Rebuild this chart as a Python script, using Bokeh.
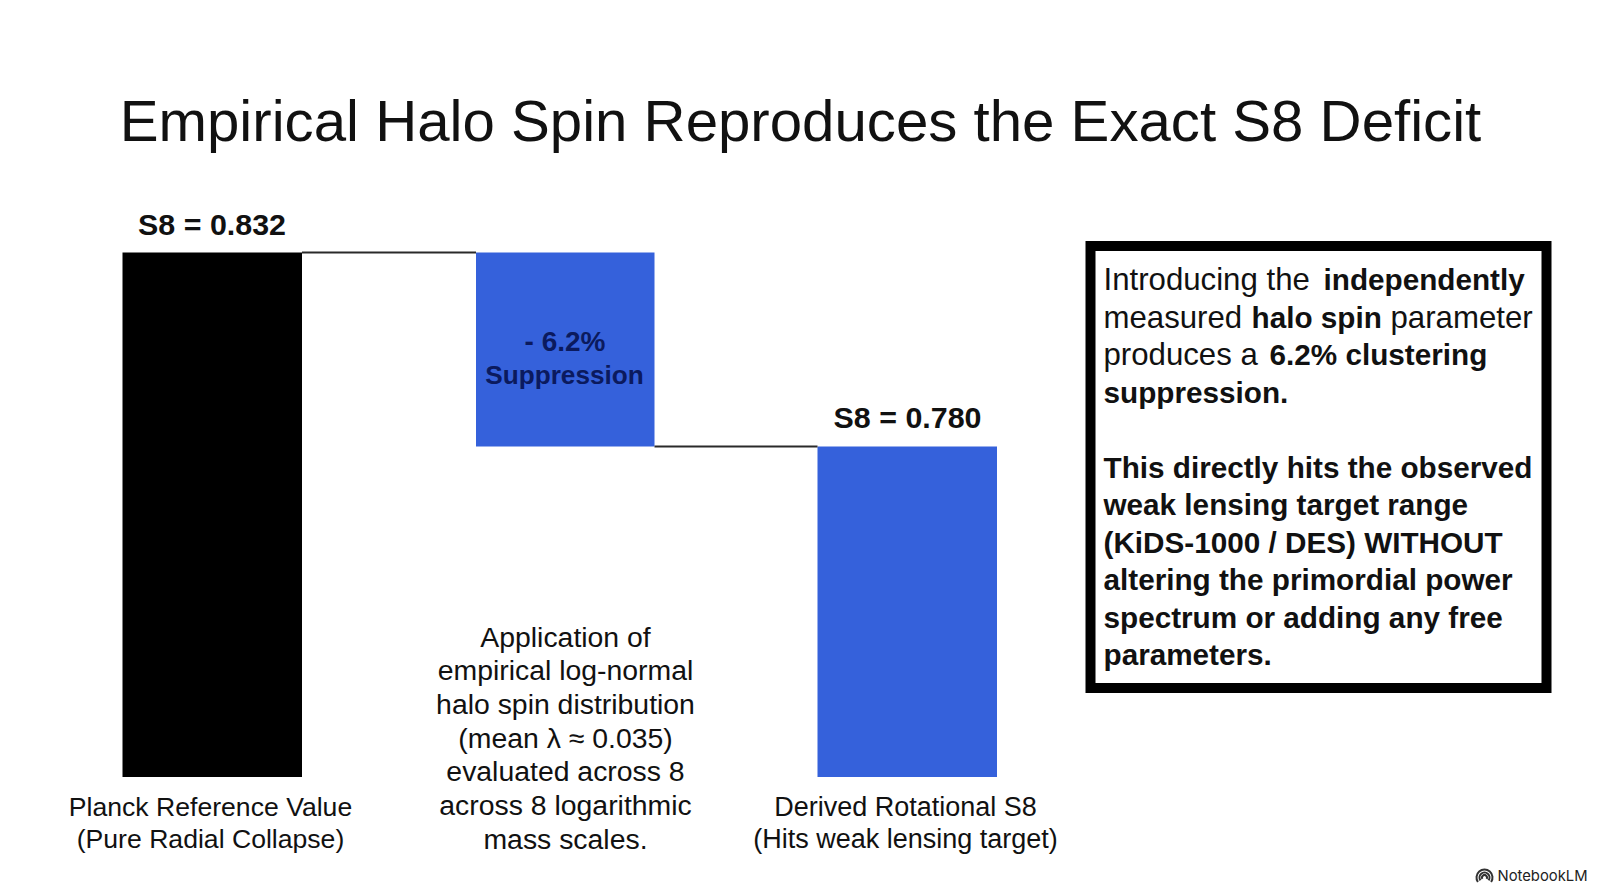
from bokeh.plotting import figure
from bokeh.models import Range1d, ColumnDataSource
from bokeh.core.properties import value
from bokeh.embed import file_html
from bokeh.resources import INLINE

# ---- data ----
title_text = "Empirical Halo Spin Reproduces the Exact S8 Deficit"
s8_planck = 0.832
s8_derived = 0.780
s8_baseline = 0.6914          # schematic base of the bars (truncated axis)
value_labels = ["S8 = 0.832", "S8 = 0.780"]
step_labels = ["- 6.2%", "Suppression"]
left_caption = ["Planck Reference Value", "(Pure Radial Collapse)"]
right_caption = ["Derived Rotational S8", "(Hits weak lensing target)"]
mid_caption = ["Application of", "empirical log-normal", "halo spin distribution",
               "(mean \u03bb \u2248 0.035)", "evaluated across 8", "across 8 logarithmic",
               "mass scales."]
box_runs = [
    [("Introducing the", 0), ("independently", 1)],
    [("measured", 0), ("halo spin", 1), ("parameter", 0)],
    [("produces a", 0), ("6.2% clustering", 1)],
    [("suppression.", 1)],
    [],
    [("This directly hits the observed", 1)],
    [("weak lensing target range", 1)],
    [("(KiDS-1000 / DES) WITHOUT", 1)],
    [("altering the primordial power", 1)],
    [("spectrum or adding any free", 1)],
    [("parameters.", 1)],
]
brand = "NotebookLM"

# ---- layout (reference pixels) ----
W, H = 1600, 893
PX_PER_UNIT = 194 / (s8_planck - s8_derived)
TOP_PX = 252
FONT = value("Liberation Sans")
BLACK, BLUE, NAVY, INK = "#000000", "#3561DB", "#0B1A5E", "#111111"

p = figure(width=W, height=H, output_backend="svg", toolbar_location=None,
           x_range=Range1d(0, W),
           y_range=Range1d(s8_planck - (H - TOP_PX) / PX_PER_UNIT,
                           s8_planck + TOP_PX / PX_PER_UNIT),
           min_border=0, outline_line_color=None, background_fill_color="white",
           border_fill_color="white")
p.axis.visible = False
p.grid.visible = False
p.extra_y_ranges["px"] = Range1d(H, 0)

# bars from values
bars = ColumnDataSource(dict(
    left=[122, 475.5, 817], right=[301.5, 654, 996.5],
    top=[s8_planck, s8_planck, s8_derived],
    bottom=[s8_baseline, s8_derived, s8_baseline],
    color=[BLACK, BLUE, BLUE]))
p.quad(left="left", right="right", top="top", bottom="bottom", fill_color="color",
       line_color=None, source=bars)

# connectors
p.segment(x0=[301.5, 654], x1=[475.5, 817], y0=[s8_planck, s8_derived], y1=[s8_planck, s8_derived],
          line_color="#2a2a2a", line_width=2)


def txt(x, y, s, size, bold=False, color=INK, align="center", font=FONT):
    p.text(x=[x], y=[y], text=[s], y_range_name="px", text_font=font,
           text_font_size=f"{size}px", text_font_style="bold" if bold else "normal",
           text_color=color, text_align=align, text_baseline="alphabetic")


txt(800, 120, title_text, 58.2)
txt(211.5, 223, value_labels[0], 30.4, True)
txt(907, 416, value_labels[1], 30.4, True)
txt(564.5, 341, step_labels[0], 28, True, NAVY)
txt(564, 374, step_labels[1], 26.2, True, NAVY)

for i, s in enumerate(left_caption):
    txt(210, 806 + i * 32, s, 26.6)
for i, s in enumerate(right_caption):
    txt(905, 806 + i * 32, s, 27)
for i, s in enumerate(mid_caption):
    txt(565, 636 + i * 33.7, s, 28.4)

# text box
p.quad(left=[1090], right=[1546], top=[245.5], bottom=[687.5], y_range_name="px",
       fill_color="white", line_color="black", line_width=10, line_join="miter")

run_x = {(0, 0): 1103, (0, 1): 1323, (1, 0): 1103, (1, 1): 1251, (1, 2): 1390,
         (2, 0): 1103, (2, 1): 1269}
for i, runs in enumerate(box_runs):
    for j, (s, b) in enumerate(runs):
        txt(run_x.get((i, j), 1103), 279 + i * 37.5, s, 29.7 if b else 31.2, bool(b), align="left")

# brand mark
for r in (8, 5, 2.5):
    p.arc(x=[1484], y=[877], radius=r, start_angle=-0.6, end_angle=3.14159 + 0.6,
          y_range_name="px", line_color="#333333", line_width=2)
txt(1497, 875, brand, 14.8, False, "#222222", "left", value("Inter"))

open("out.html", "w").write(file_html(p, INLINE))
